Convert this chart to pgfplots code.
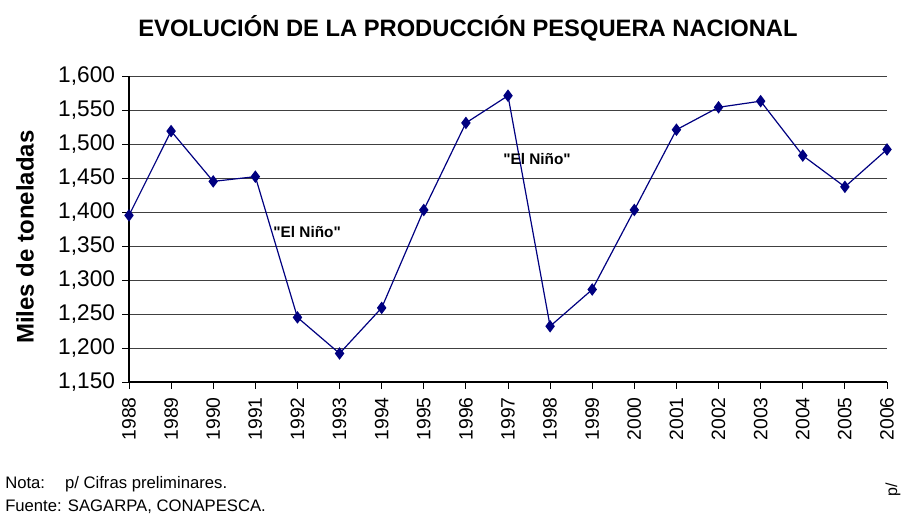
\documentclass[border=0pt]{standalone}
\usepackage{pgfplots}
\pgfplotsset{compat=1.18}
\usepackage{fontspec}
\setmainfont{Liberation Sans}[Ligatures=TeXOff]
\definecolor{serie}{RGB}{0,0,128}

\begin{document}
\begin{tikzpicture}[x=0.75pt,y=-0.75pt]
\useasboundingbox (0,0) rectangle (901,515);
\coordinate (O) at (129,382);
\begin{axis}[
  at={(O)}, anchor=south west,
  scale only axis,
  width=568.5pt, height=229.5pt,
  xmin=1988, xmax=2006,
  ymin=1150, ymax=1600,
  xtick={1988,...,2006},
  ytick={1150,1200,...,1600},
  axis x line*=bottom,
  axis y line*=left,
  axis line style={black, line width=0.8pt, -},
  tick align=outside,
  major tick length=5pt,
  tick style={black, line width=0.6pt},
  ymajorgrids,
  grid style={black!75, line width=0.6pt},
  /pgf/number format/assume math mode=true,
  y tick label style={font=\fontsize{17}{17}\selectfont,
    /pgf/number format/1000 sep={,}, xshift=-2pt},
  x tick label style={font=\fontsize{14.5}{14.5}\selectfont, rotate=90, anchor=east,
    /pgf/number format/1000 sep={}},
  xticklabel shift=3pt,
  clip=false,
]
\addplot[serie, line width=0.9pt, mark=diamond*, mark size=4pt,
  mark options={fill=serie, draw=serie}] coordinates {
  (1988,1395) (1989,1519) (1990,1445) (1991,1452) (1992,1245)
  (1993,1192) (1994,1259) (1995,1403) (1996,1531) (1997,1571)
  (1998,1232) (1999,1286) (2000,1403) (2001,1521) (2002,1554)
  (2003,1563) (2004,1483) (2005,1437) (2006,1492)
};
\node[font=\bfseries\fontsize{11.5}{11.5}\selectfont] at (axis cs:1992.23,1371) {"El Niño"};
\node[font=\bfseries\fontsize{11.5}{11.5}\selectfont] at (axis cs:1997.69,1478) {"El Niño"};
\end{axis}
\node[font=\bfseries\fontsize{17.8}{17.8}\selectfont] at (468,28) {EVOLUCIÓN DE LA PRODUCCIÓN PESQUERA NACIONAL};
\node[font=\bfseries\fontsize{18}{18}\selectfont, rotate=90] at (25,237) {Miles de toneladas};
\node[font=\fontsize{12}{12}\selectfont, rotate=90] at (893,490) {p/};
\node[font=\fontsize{12.5}{12.5}\selectfont, anchor=west, inner sep=0pt] at (5,484) {Nota:\hspace{1.2em}p/ Cifras preliminares.};
\node[font=\fontsize{12.5}{12.5}\selectfont, anchor=west, inner sep=0pt] at (5,507) {Fuente: SAGARPA, CONAPESCA.};
\end{tikzpicture}
\end{document}
